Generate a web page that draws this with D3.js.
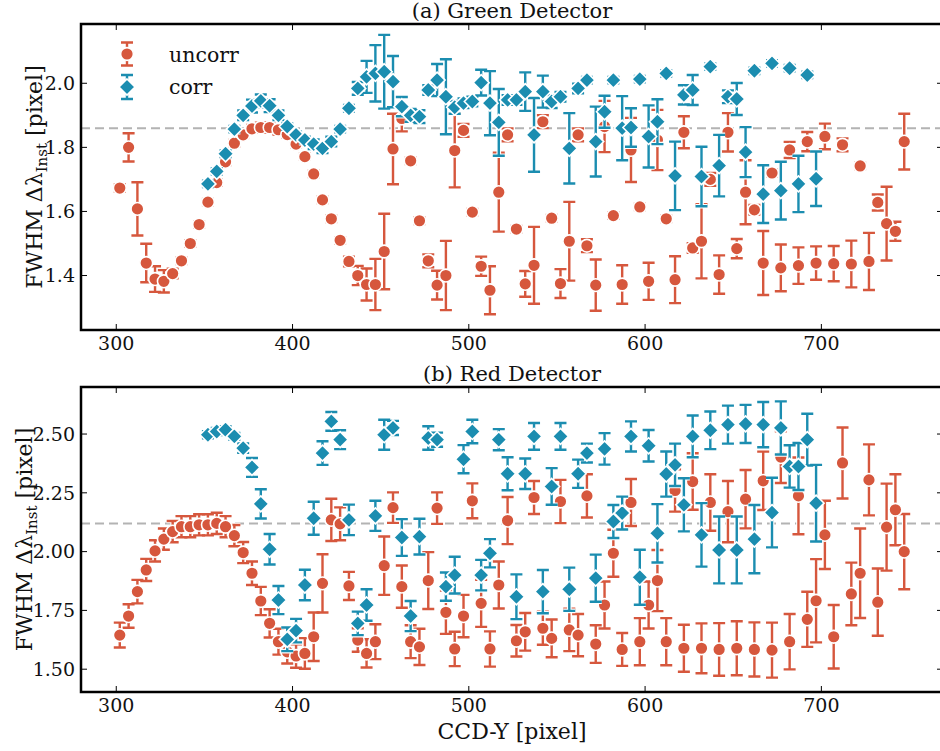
<!DOCTYPE html>
<meta charset="utf-8">
<title>FWHM along CCD-Y</title>
<script src="https://d3js.org/d3.v7.min.js"></script>

<style>
  body {
    margin: 0;
    background-color: #fff;
  }

  text {
    font-family: "DejaVu Serif", serif;
    fill: #111;
  }

  .tick-label {
    font-size: 19px;
  }

  .title {
    font-size: 21px;
  }

  .axis-label {
    font-size: 22px;
  }

  .legend-label {
    font-size: 20.5px;
  }
</style>

<body>
  <svg width="940" height="751"></svg>
</body>

<script>

  // ---- data ----
  var greenUncorrX = [302, 307, 312, 317, 322, 327, 332, 337, 342, 347, 352, 357, 362, 367, 372, 377, 382, 387, 392, 397,
    402, 407, 412, 417, 422, 427, 432, 437, 442, 447, 452, 457, 462, 467, 472, 477, 482, 487, 492, 497,
    502, 507, 512, 517, 522, 527, 532, 537, 542, 547, 552, 557, 562, 567, 572, 577, 582, 587, 592, 597,
    602, 607, 612, 617, 622, 627, 632, 637, 642, 647, 652, 657, 662, 667, 672, 677, 682, 687, 692, 697,
    702, 707, 712, 717, 722, 727, 732, 737, 742, 747];
  var greenUncorr = [1.673, 1.800, 1.608, 1.439, 1.389, 1.382, 1.406, 1.446, 1.500, 1.559, 1.629, 1.690, 1.755, 1.813, 1.839, 1.858, 1.862, 1.862, 1.855, 1.840,
    1.810, 1.771, 1.717, 1.636, 1.577, 1.510, 1.444, 1.400, 1.372, 1.372, 1.475, 1.795, 1.890, 1.758, 1.571, 1.446, 1.370, 1.400, 1.790, 1.853,
    1.598, 1.429, 1.354, 1.660, 1.839, 1.545, 1.374, 1.432, 1.880, 1.579, 1.375, 1.507, 1.839, 1.493, 1.370, 1.865, 1.587, 1.372, 1.792, 1.614,
    1.382, 1.823, 1.577, 1.387, 1.847, 1.486, 1.507, 1.700, 1.403, 1.847, 1.484, 1.660, 1.605, 1.439, 1.720, 1.424, 1.792, 1.431, 1.818, 1.439,
    1.834, 1.437, 1.808, 1.436, 1.742, 1.444, 1.628, 1.562, 1.538, 1.818];
  var greenUncorrErr = [0.012, 0.044, 0.083, 0.060, 0.040, 0.035, 0.015, 0.010, 0.010, 0.010, 0.010, 0.010, 0.010, 0.010, 0.010, 0.012, 0.015, 0.015, 0.015, 0.010,
    0.010, 0.010, 0.010, 0.010, 0.010, 0.010, 0.015, 0.030, 0.050, 0.080, 0.118, 0.110, 0.040, 0.010, 0.010, 0.020, 0.045, 0.108, 0.115, 0.020,
    0.010, 0.030, 0.075, 0.123, 0.020, 0.010, 0.040, 0.120, 0.020, 0.010, 0.045, 0.123, 0.020, 0.020, 0.080, 0.080, 0.010, 0.060, 0.100, 0.010,
    0.058, 0.094, 0.010, 0.073, 0.050, 0.015, 0.116, 0.020, 0.060, 0.060, 0.030, 0.100, 0.015, 0.100, 0.010, 0.073, 0.025, 0.057, 0.030, 0.052,
    0.040, 0.055, 0.020, 0.073, 0.010, 0.089, 0.025, 0.115, 0.030, 0.087];

  var greenCorrX = [352, 357, 362, 367, 372, 377, 382, 387, 392, 397, 402, 407, 412, 417, 422, 427, 432, 437, 442, 447,
    452, 457, 462, 467, 472, 477, 482, 487, 492, 497, 502, 507, 512, 517, 522, 527, 532, 537, 542, 547,
    552, 557, 562, 567, 572, 577, 582, 587, 592, 597, 602, 607, 612, 617, 622, 627, 632, 637, 642, 647,
    652, 657, 662, 667, 672, 677, 682, 687, 692, 697];
  var greenCorr = [1.686, 1.725, 1.780, 1.857, 1.900, 1.929, 1.945, 1.930, 1.900, 1.865, 1.839, 1.823, 1.810, 1.797, 1.818, 1.857, 1.922, 1.984, 2.020, 2.031,
    2.036, 2.005, 1.927, 1.900, 1.896, 1.979, 2.010, 1.958, 1.925, 1.938, 1.943, 2.002, 1.938, 1.878, 1.948, 1.948, 1.974, 1.839, 1.974, 1.943,
    1.958, 1.797, 1.984, 2.010, 1.818, 1.911, 2.010, 1.860, 1.862, 2.013, 1.834, 1.880, 2.031, 1.711, 1.964, 1.979, 1.709, 2.052, 1.743, 1.958,
    1.951, 1.785, 2.039, 1.654, 2.062, 1.665, 2.047, 1.686, 2.026, 1.702];
  var greenCorrErr = [0.010, 0.010, 0.010, 0.010, 0.015, 0.020, 0.020, 0.020, 0.015, 0.010, 0.010, 0.010, 0.015, 0.015, 0.015, 0.010, 0.010, 0.020, 0.050, 0.088,
    0.115, 0.080, 0.030, 0.020, 0.020, 0.015, 0.050, 0.117, 0.020, 0.015, 0.015, 0.040, 0.100, 0.104, 0.015, 0.015, 0.060, 0.115, 0.050, 0.020,
    0.015, 0.110, 0.015, 0.010, 0.109, 0.050, 0.010, 0.100, 0.060, 0.010, 0.097, 0.070, 0.010, 0.107, 0.030, 0.047, 0.093, 0.010, 0.096, 0.020,
    0.050, 0.078, 0.010, 0.090, 0.010, 0.090, 0.010, 0.088, 0.010, 0.085];

  var redUncorrX = greenUncorrX.slice();
  var redUncorr = [1.645, 1.726, 1.830, 1.922, 2.003, 2.053, 2.085, 2.106, 2.106, 2.114, 2.114, 2.120, 2.106, 2.068, 1.996, 1.908, 1.790, 1.695, 1.617, 1.574,
    1.556, 1.567, 1.638, 1.865, 2.135, 2.118, 1.854, 1.624, 1.567, 1.617, 1.940, 2.187, 1.851, 1.617, 1.595, 1.877, 2.185, 1.742, 1.586, 1.726,
    2.216, 1.780, 1.586, 1.858, 2.132, 1.621, 1.659, 2.230, 1.674, 1.631, 2.213, 1.667, 1.645, 2.237, 1.607, 1.773, 1.993, 1.584, 2.209, 1.617,
    1.773, 1.877, 1.617, 2.260, 1.589, 2.298, 1.589, 2.209, 1.584, 2.170, 1.589, 2.223, 1.584, 2.301, 1.581, 2.402, 1.617, 2.237, 1.712, 1.791,
    2.071, 1.638, 2.377, 1.820, 1.908, 2.305, 1.785, 2.104, 2.178, 2.000];
  var redUncorrErr = [0.053, 0.050, 0.050, 0.047, 0.045, 0.045, 0.045, 0.045, 0.045, 0.045, 0.045, 0.045, 0.045, 0.045, 0.045, 0.050, 0.060, 0.060, 0.055, 0.050,
    0.050, 0.065, 0.103, 0.124, 0.090, 0.070, 0.060, 0.050, 0.060, 0.074, 0.124, 0.065, 0.090, 0.070, 0.077, 0.121, 0.067, 0.092, 0.073, 0.090,
    0.074, 0.100, 0.075, 0.100, 0.100, 0.067, 0.080, 0.070, 0.070, 0.080, 0.092, 0.090, 0.090, 0.092, 0.080, 0.100, 0.100, 0.070, 0.100, 0.100,
    0.100, 0.130, 0.100, 0.090, 0.100, 0.120, 0.106, 0.120, 0.112, 0.130, 0.115, 0.124, 0.115, 0.124, 0.117, 0.110, 0.118, 0.163, 0.117, 0.177,
    0.145, 0.135, 0.151, 0.133, 0.190, 0.151, 0.143, 0.185, 0.151, 0.160];

  var redCorrX = greenCorrX.slice();
  var redCorr = [2.497, 2.511, 2.518, 2.490, 2.440, 2.358, 2.203, 2.010, 1.794, 1.627, 1.664, 1.858, 2.142, 2.419, 2.554, 2.476, 2.135, 1.695, 1.773, 2.152,
    2.497, 2.526, 2.060, 1.726, 2.064, 2.483, 2.476, 1.851, 1.900, 2.393, 2.511, 1.900, 1.993, 2.476, 2.331, 1.808, 2.331, 2.490, 1.830, 2.277,
    2.490, 1.840, 2.331, 2.419, 1.887, 2.437, 2.128, 2.164, 2.490, 1.891, 2.450, 2.078, 2.330, 2.369, 2.199, 2.490, 2.071, 2.516, 2.007, 2.540,
    2.007, 2.543, 2.053, 2.540, 2.166, 2.526, 2.362, 2.362, 2.476, 2.206];
  var redCorrErr = [0.015, 0.015, 0.015, 0.015, 0.020, 0.040, 0.062, 0.065, 0.060, 0.050, 0.050, 0.065, 0.070, 0.050, 0.040, 0.040, 0.065, 0.050, 0.067, 0.064,
    0.064, 0.030, 0.078, 0.064, 0.076, 0.050, 0.030, 0.060, 0.078, 0.060, 0.050, 0.065, 0.060, 0.045, 0.070, 0.095, 0.065, 0.057, 0.092, 0.078,
    0.057, 0.092, 0.060, 0.040, 0.100, 0.067, 0.070, 0.070, 0.064, 0.117, 0.067, 0.124, 0.096, 0.090, 0.113, 0.089, 0.135, 0.080, 0.142, 0.081,
    0.142, 0.081, 0.145, 0.096, 0.148, 0.113, 0.090, 0.100, 0.110, 0.163];

  var xTicks = [300, 400, 500, 600, 700];
  var greenYTicks = [1.4, 1.6, 1.8, 2.0];
  var redYTicks = [1.50, 1.75, 2.00, 2.25, 2.50];
  var greenRef = 1.86, redRef = 2.12;
  var seriesNames = ["uncorr", "corr"];

  // ---- drawing ----
  var svg = d3.select("svg"),
    cUncorr = "#d6573d",
    cCorr = "#1b8db0",
    left = 81, right = 943;

  var x = d3.scaleLinear().domain([280, 769]).range([left, right]);

  var panels = [
    {
      title: "(a) Green Detector", titleY: 18, top: 24, bottom: 330, domain: [1.23, 2.185],
      ticks: greenYTicks, fmt: d3.format(".1f"), ref: greenRef, labelX: 42,
      u: [greenUncorrX, greenUncorr, greenUncorrErr], c: [greenCorrX, greenCorr, greenCorrErr], legend: true
    },
    {
      title: "(b) Red Detector", titleY: 381, top: 387, bottom: 692, domain: [1.403, 2.70],
      ticks: redYTicks, fmt: d3.format(".2f"), ref: redRef, labelX: 32,
      u: [redUncorrX, redUncorr, redUncorrErr], c: [redCorrX, redCorr, redCorrErr], legend: false
    }
  ];

  function barPath(px, y0, y1) {
    return "M" + px + "," + y0 + "V" + y1 +
      "M" + (px - 6) + "," + y0 + "H" + (px + 6) +
      "M" + (px - 6) + "," + y1 + "H" + (px + 6);
  }

  var circlePath = d3.symbol().type(d3.symbolCircle).size(Math.PI * 6.4 * 6.4)();
  var diamondPath = "M0,-8L8,0L0,8L-8,0Z";

  function drawSeries(g, data, y, color, shape) {
    var pts = data[0].map(function (d, i) { return { x: d, v: data[1][i], e: data[2][i] }; });
    var bars = g.append("g");
    [["#fff", 4.6], [color, 2.4]].forEach(function (s) {
      bars.selectAll(null)
        .data(pts)
        .enter().append("path")
        .attr("d", function (d) { return barPath(x(d.x), y(d.v - d.e), y(d.v + d.e)); })
        .attr("fill", "none")
        .attr("stroke", s[0])
        .attr("stroke-width", s[1]);
    });
    g.append("g").selectAll("path")
      .data(pts)
      .enter().append("path")
      .attr("transform", function (d) { return "translate(" + x(d.x) + "," + y(d.v) + ")"; })
      .attr("d", shape)
      .attr("fill", color)
      .attr("stroke", "#fff")
      .attr("stroke-width", 1.6);
  }

  panels.forEach(function (p) {
    var y = d3.scaleLinear().domain(p.domain).range([p.bottom, p.top]);
    var g = svg.append("g");

    // reference level
    g.append("line")
      .attr("x1", left).attr("x2", right)
      .attr("y1", y(p.ref)).attr("y2", y(p.ref))
      .attr("stroke", "#b3b3b3")
      .attr("stroke-width", 2)
      .attr("stroke-dasharray", "9,5");

    drawSeries(g, p.u, y, cUncorr, circlePath);
    drawSeries(g, p.c, y, cCorr, diamondPath);

    // ticks, all sides, pointing in
    var t = g.append("g").attr("stroke", "#000").attr("stroke-width", 1);
    xTicks.forEach(function (v) {
      t.append("line").attr("x1", x(v)).attr("x2", x(v)).attr("y1", p.bottom).attr("y2", p.bottom - 6);
      t.append("line").attr("x1", x(v)).attr("x2", x(v)).attr("y1", p.top).attr("y2", p.top + 6);
      g.append("text").attr("class", "tick-label")
        .attr("x", x(v)).attr("y", p.bottom + 20)
        .attr("text-anchor", "middle")
        .text(v);
    });
    p.ticks.forEach(function (v) {
      t.append("line").attr("x1", left).attr("x2", left + 6).attr("y1", y(v)).attr("y2", y(v));
      t.append("line").attr("x1", right).attr("x2", right - 6).attr("y1", y(v)).attr("y2", y(v));
      g.append("text").attr("class", "tick-label")
        .attr("x", 75).attr("y", y(v)).attr("dy", "0.36em")
        .attr("text-anchor", "end")
        .text(p.fmt(v));
    });

    // frame
    g.append("rect")
      .attr("x", left).attr("y", p.top)
      .attr("width", right - left).attr("height", p.bottom - p.top)
      .attr("fill", "none")
      .attr("stroke", "#000")
      .attr("stroke-width", 2.5);

    g.append("text").attr("class", "title")
      .attr("x", (left + right) / 2).attr("y", p.titleY)
      .attr("text-anchor", "middle")
      .text(p.title);

    var yl = g.append("text").attr("class", "axis-label")
      .attr("transform", "translate(" + p.labelX + "," + (p.top + p.bottom) / 2 + ") rotate(-90)")
      .attr("text-anchor", "middle");
    yl.append("tspan").text("FWHM Δλ");
    yl.append("tspan").attr("font-size", "15px").attr("dy", 5).text("Inst");
    yl.append("tspan").attr("dy", -5).text(" [pixel]");

    if (p.legend) {
      var lg = g.append("g");
      [[cUncorr, circlePath, 54, 11.5, 62], [cCorr, diamondPath, 87, 12, 94]].forEach(function (s, i) {
        lg.append("path").attr("d", barPath(127, s[2] - s[3], s[2] + s[3]))
          .attr("fill", "none").attr("stroke", "#fff").attr("stroke-width", 4.6);
        lg.append("path").attr("d", barPath(127, s[2] - s[3], s[2] + s[3]))
          .attr("fill", "none").attr("stroke", s[0]).attr("stroke-width", 2.4);
        lg.append("path").attr("transform", "translate(127," + s[2] + ")").attr("d", s[1])
          .attr("fill", s[0]).attr("stroke", "#fff").attr("stroke-width", 1.6);
        lg.append("text").attr("class", "legend-label")
          .attr("x", 169).attr("y", s[4])
          .text(seriesNames[i]);
      });
    }
  });

  svg.append("text").attr("class", "axis-label")
    .attr("x", (left + right) / 2).attr("y", 739)
    .attr("text-anchor", "middle")
    .text("CCD-Y [pixel]");

</script>
